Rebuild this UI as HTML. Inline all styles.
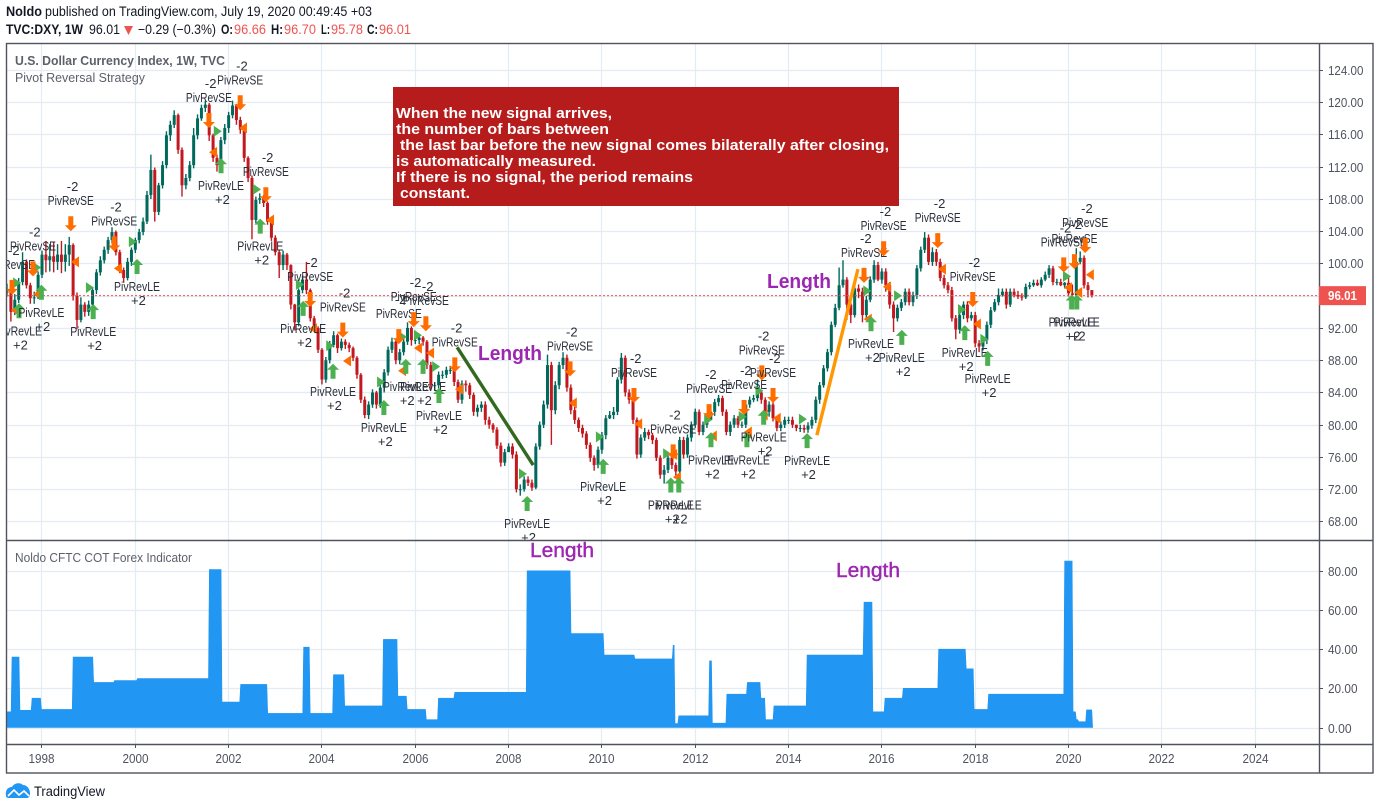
<!DOCTYPE html>
<html lang="en">
<head>
<meta charset="utf-8">
<title>TVC:DXY Pivot Reversal Strategy</title>
<style>
html,body{margin:0;padding:0;background:#fff;width:1380px;height:810px;overflow:hidden}
svg{display:block;font-family:"Liberation Sans",sans-serif}
</style>
</head>
<body>
<svg id="chart" width="1380" height="810" viewBox="0 0 1380 810" xmlns="http://www.w3.org/2000/svg">
  <defs>
    <clipPath id="mainClip"><rect x="7" y="44" width="1312" height="496"/></clipPath>
    <clipPath id="lowClip"><rect x="7" y="541" width="1312" height="203"/></clipPath>
  </defs>
  <rect x="0" y="0" width="1380" height="810" fill="#fff"/>

  <g font-size="13.5" fill="#131722">
    <text x="6" y="16" font-weight="bold" textLength="36" lengthAdjust="spacingAndGlyphs">Noldo</text>
    <text x="45" y="16" textLength="327" lengthAdjust="spacingAndGlyphs">published on TradingView.com, July 19, 2020 00:49:45 +03</text>
    <text x="6" y="34" font-weight="bold" textLength="77" lengthAdjust="spacingAndGlyphs">TVC:DXY, 1W</text>
    <text x="89" y="34" textLength="31" lengthAdjust="spacingAndGlyphs">96.01</text>
    <path d="M124 26 L133 26 L128.5 35 Z" fill="#ef5350"/>
    <text x="138" y="34" textLength="78" lengthAdjust="spacingAndGlyphs">−0.29 (−0.3%)</text>
    <text x="221" y="34" font-weight="bold" textLength="12" lengthAdjust="spacingAndGlyphs">O:</text>
    <text x="234" y="34" fill="#ef5350" textLength="32" lengthAdjust="spacingAndGlyphs">96.66</text>
    <text x="271" y="34" font-weight="bold" textLength="12" lengthAdjust="spacingAndGlyphs">H:</text>
    <text x="284" y="34" fill="#ef5350" textLength="32" lengthAdjust="spacingAndGlyphs">96.70</text>
    <text x="321" y="34" font-weight="bold" textLength="9" lengthAdjust="spacingAndGlyphs">L:</text>
    <text x="331" y="34" fill="#ef5350" textLength="32" lengthAdjust="spacingAndGlyphs">95.78</text>
    <text x="367" y="34" font-weight="bold" textLength="11" lengthAdjust="spacingAndGlyphs">C:</text>
    <text x="379" y="34" fill="#ef5350" textLength="32" lengthAdjust="spacingAndGlyphs">96.01</text>
  </g>

  <g id="gridLayer"></g>
  <g id="mainLayer" clip-path="url(#mainClip)"></g>
  <g id="lowLayer" clip-path="url(#lowClip)"></g>

  <g stroke="#50535e" stroke-width="1.4" fill="none">
    <rect x="6.5" y="43.5" width="1366.5" height="729.5"/>
    <line x1="1319.5" y1="43" x2="1319.5" y2="773"/>
    <line x1="6" y1="540.5" x2="1373" y2="540.5"/>
    <line x1="6" y1="744.5" x2="1373" y2="744.5"/>
  </g>
  <g id="axisLayer"></g>

  <g fill="#5d606b" font-size="13">
    <text x="15" y="65" font-weight="bold" textLength="210" lengthAdjust="spacingAndGlyphs">U.S. Dollar Currency Index, 1W, TVC</text>
    <text x="15" y="82" textLength="130" lengthAdjust="spacingAndGlyphs">Pivot Reversal Strategy</text>
    <text x="15" y="562" textLength="177" lengthAdjust="spacingAndGlyphs">Noldo CFTC COT Forex Indicator</text>
  </g>

  <g>
    <rect x="393" y="87" width="506" height="119" fill="#b71c1c"/>
    <g fill="#fff" font-weight="bold" font-size="15">
      <text x="396" y="118" textLength="216" lengthAdjust="spacingAndGlyphs">When the new signal arrives,</text>
      <text x="396" y="134" textLength="213" lengthAdjust="spacingAndGlyphs">the number of bars between</text>
      <text x="400" y="150" textLength="489" lengthAdjust="spacingAndGlyphs">the last bar before the new signal comes bilaterally after closing,</text>
      <text x="396" y="166" textLength="200" lengthAdjust="spacingAndGlyphs">is automatically measured.</text>
      <text x="396" y="182" textLength="297" lengthAdjust="spacingAndGlyphs">If there is no signal, the period remains</text>
      <text x="400" y="198" textLength="70" lengthAdjust="spacingAndGlyphs">constant.</text>
    </g>
  </g>

  <g fill="#9c27b0" font-size="20">
    <text x="478" y="360" font-weight="bold" textLength="64" lengthAdjust="spacingAndGlyphs">Length</text>
    <text x="767" y="288" font-weight="bold" textLength="64" lengthAdjust="spacingAndGlyphs">Length</text>
    <text x="530" y="557" stroke="#9c27b0" stroke-width="0.4" textLength="64" lengthAdjust="spacingAndGlyphs">Length</text>
    <text x="836" y="577" stroke="#9c27b0" stroke-width="0.4" textLength="64" lengthAdjust="spacingAndGlyphs">Length</text>
  </g>

  <g>
    <path d="M6 796 C5 790 8 787 12 787 C14 783 20 782 23 785 C27 785 30 789 30 793 C30 796 29 798 27 798 L9 798 C7 798 6 797 6 796 Z" fill="#2196f3"/>
    <path d="M8 796 L14 790 L19 795 L24 791 L29 796" fill="none" stroke="#fff" stroke-width="1.6"/>
    <text x="34" y="796" font-size="13.5" fill="#131722" textLength="71" lengthAdjust="spacingAndGlyphs">TradingView</text>
  </g>

<script>
// ---- Price axis data ----
const priceTicks = [124,120,116,112,108,104,100,96,92,88,84,80,76,72,68];
const indicatorTicks = [80,60,40,20,0];
const timeTicks = [1998,2000,2002,2004,2006,2008,2010,2012,2014,2016,2018,2020,2022,2024];
const lastPrice = 96.01;
const firstBarYear = 1997.263;
const barsPerYear = 12;

// ---- Price series ----
const closes = [
96.5,94.0,95.5,97.7,100.2,97.3,95.7,95.8,98.6,101.1,
100.4,100.9,100.2,101.1,100.2,101.1,102.3,96.0,93.0,94.9,
94.0,94.9,96.7,98.9,100.4,101.7,102.9,103.9,101.4,99.2,
98.2,100.2,101.7,102.9,103.9,105.2,108.5,111.6,106.4,109.7,
112.2,115.9,117.2,118.4,114.1,109.7,110.6,112.2,115.9,118.0,
119.3,119.7,115.9,113.1,112.2,115.3,116.8,118.4,119.6,117.8,
116.6,113.1,110.6,105.4,107.9,108.1,107.5,105.2,103.2,101.4,
99.8,101.1,99.8,94.9,92.7,96.7,98.0,96.7,93.2,92.0,
89.3,85.6,88.0,89.9,91.1,89.5,90.3,89.9,89.5,88.3,
86.2,83.1,81.2,82.5,84.0,82.5,84.6,86.5,89.3,90.3,
88.0,89.0,90.3,92.0,90.5,90.5,90.8,90.3,87.4,84.9,
84.9,86.2,86.2,86.8,86.8,85.3,83.1,85.1,84.9,83.7,
81.6,82.1,82.5,80.6,80.0,79.4,77.4,75.3,76.6,77.3,
76.3,72.0,72.0,73.2,72.8,72.2,77.3,80.0,82.5,87.4,
81.8,84.9,87.4,88.3,84.6,81.8,80.6,79.6,78.9,77.5,
75.9,75.0,76.9,78.7,80.8,81.2,81.6,85.6,88.3,84.0,
83.1,80.6,76.3,78.4,79.1,78.7,78.1,75.9,73.8,74.4,
75.9,75.0,74.2,78.1,76.3,78.4,80.0,81.6,79.1,80.0,
80.6,81.6,82.8,83.3,81.6,79.1,80.0,80.8,80.0,80.0,
82.5,83.1,83.3,84.0,83.1,81.6,82.5,80.8,79.6,80.0,
80.6,80.6,80.0,79.6,79.6,79.4,79.9,80.6,83.1,84.9,
87.0,89.0,92.4,94.5,97.3,98.0,94.9,93.6,96.9,96.5,
93.6,95.5,98.0,99.8,98.0,99.0,97.3,94.9,93.2,94.5,
95.2,96.5,95.2,96.1,99.4,101.7,103.2,100.2,101.4,100.2,
98.2,97.3,96.7,93.2,91.8,93.6,94.9,93.2,93.6,90.1,
89.7,90.5,92.4,94.2,95.2,96.1,96.5,94.9,96.5,96.1,
95.9,95.8,97.1,97.3,97.6,97.3,98.0,98.6,99.4,97.7,
97.7,97.3,97.6,96.3,96.1,100.2,100.7,97.3,96.7,96.01
];
const highs = [
97.5,96.8,96.2,98.2,101.4,100.5,97.6,96.5,99,101.6,
102.8,102.4,102.6,102.4,102.8,102.4,103.3,102.5,96.4,95.8,
95.2,95.4,97.1,99.3,100.9,102.1,103.3,104.5,104.1,101.7,
99.5,100.7,102,103.2,104.3,105.7,109,113.5,111.9,110,
112.7,116.4,117.7,119,118.6,114.4,111.1,112.7,116.8,118.5,
119.7,120.2,119.9,116.1,113.5,115.7,117.3,118.8,120.2,119.8,
118.2,116.8,113.3,110.9,108.3,108.7,108.5,107.7,105.5,103.5,
101.7,101.6,101.3,99.9,95,96.9,98.5,100.2,96.9,93.5,
92.2,89.5,88.4,90.4,91.6,91.3,90.7,90.6,90.2,89.7,
88.5,86.4,83.5,82.9,84.4,84.2,85,86.9,89.7,90.8,
90.5,89.4,90.7,92.7,92.2,91,91.3,91,90.5,87.8,
85.3,86.6,86.7,87.2,87.3,87.1,85.6,85.5,85.5,85.2,
84,82.5,82.9,82.9,81,80.2,79.7,77.8,77,77.7,
77.7,76.7,72.6,73.6,73.6,73.2,77.7,80.4,83,88.7,
87.8,85.4,87.8,89,88.7,85,82.2,80.9,80,79.2,
77.8,76.2,77.3,79.1,81.2,81.7,82.2,85.9,88.9,88.6,
84.4,83.4,80.9,78.8,79.6,79.4,79,78.4,76.2,75,
76.3,76.1,75.3,78.5,78.5,78.8,80.4,82,81.9,80.4,
81,82,83.2,83.7,83.6,81.9,80.4,81.2,81.1,80.4,
82.9,83.5,83.7,85.6,84.1,83.4,82.9,82.9,81,80.4,
81,81,81,80,80,80,80.3,81,83.5,85.3,
87.4,89.4,92.8,95,99.5,100.4,98.3,95.2,97.3,97.4,
97,96,98.4,100.4,100.2,99.4,99.4,97.7,95.3,94.9,
95.6,96.9,96.9,96.5,99.8,102.1,103.9,103.6,102,101.8,
100.6,98.6,97.7,97.1,93.6,94,95.3,95.3,94,94,
90.5,90.9,92.8,94.6,95.6,96.9,96.9,96.9,96.9,96.9,
96.6,96.3,97.5,97.7,98,98,98.3,99,99.8,99.7,
98.1,98.1,97.7,98.4,97.4,101.9,101.5,101,97.7,96.7
];
const lows = [
95.9,92.8,93.6,95.1,97.3,96.9,95,95,95.6,98.2,
98.9,99,98.9,99.2,98.8,99,99.7,95.4,91.9,92.7,
93.4,93.5,94.5,96.2,98.5,100,101.2,102.5,101,98.8,
97.6,97.9,99.7,101.3,102.5,103.5,104.9,108,105.2,106,
109.3,111.8,115.2,116.8,113.6,108.3,109.2,110.2,111.8,115.4,
117.7,118.8,115.2,112.6,111.4,111.8,114.8,116.2,118,117.2,
116.1,112.6,110.1,103,105,107.4,107,104.8,102.8,101,
98.2,99.2,99.2,94.3,91.7,92.2,96.3,96.2,92.8,91.6,
88.9,85,85.2,87.6,89.6,88.9,89.2,89.4,89,87.9,
85.7,82.7,80.8,80.7,82.1,82,82.1,84,86.1,88.9,
87.5,87.5,88.6,89.9,89.8,90,90,89.8,86.9,84.3,
84.3,84.5,85.7,85.8,86.3,84.8,82.7,82.6,84.1,83.2,
81.1,81,81.6,80,79.5,79,77,74.8,74.9,76.7,
75.8,71.6,71.2,71.7,72.4,71.8,72,76.9,79.6,82,
77.5,81.3,84.4,86.9,84.1,81.3,80.1,79.1,78.4,77,
75.4,74.3,74.6,76.4,78.2,80.7,80.7,81.2,85.1,83.5,
82.6,80.1,75.8,75.9,78,78.2,77.6,75.5,73.3,72.7,
74,74.5,73.7,73.8,75.8,75.9,77.9,79.6,78.7,78.7,
79.6,80.6,81.1,82.3,81.1,78.7,78.6,79.6,79.6,79.6,
79.6,82.1,82.8,82.9,82.6,81.1,81,80.4,79.2,79.2,
79.6,80.1,79.6,79.2,79.1,79,79,79.5,80.2,82.6,
84.6,86.6,88.6,92.1,94.2,97,93,92.6,93.3,95.7,
92.7,93.2,95.2,97.6,97.8,97.5,96.5,94.4,91.5,92.8,
94.1,94.8,94.8,94.7,95.6,99,101.3,99.8,99.7,99.7,
97.8,96.9,96.3,92.8,90.6,91.3,93.1,92.7,92.9,89.6,
89,89.2,90,92,94,94.8,95.9,94.4,94.6,95.8,
95.6,95.4,95.6,96.8,97.1,97.2,97,97.8,98.2,97.3,
97.3,97.2,96.9,95.9,95.3,95.8,99.9,96.9,95.8,95.78
];

// ---- Strategy signals ----
const shortSignalYears = [1997.37,1997.82,1998.63,1999.56,2001.59,2002.26,2002.81,2003.76,2004.46,2005.66,2005.98,2006.24,2006.86,2009.33,2010.70,2011.54,2012.31,2013.06,2013.44,2013.68,2015.63,2016.05,2017.21,2017.96,2019.91,2020.14,2020.37];
const shortSignalPrices = [96.1,98.4,104.0,101.5,116.8,119.0,107.6,94.6,90.8,90.0,92.1,91.6,86.5,86.0,82.7,75.7,80.7,81.2,85.5,82.7,97.6,100.9,101.9,94.6,98.9,99.3,101.3];
const longSignalYears = [1997.52,1998.00,1999.11,2000.05,2001.85,2002.69,2003.61,2004.25,2005.34,2005.81,2006.18,2006.52,2008.41,2010.04,2011.49,2011.66,2012.35,2013.12,2013.48,2014.41,2015.78,2016.44,2017.79,2018.28,2020.08,2020.19];
const longSignalPrices = [93.2,95.5,93.1,98.7,111.2,103.7,93.5,85.7,81.2,86.3,86.3,82.7,69.3,73.9,71.6,71.6,77.2,77.2,80.0,77.1,91.6,89.9,90.5,87.3,94.3,94.3];
const orangeMarkYears = [1997.43,1997.91,1998.72,1999.64,2001.68,2002.32,2002.90,2003.82,2004.55,2005.73,2006.07,2006.33,2006.95,2009.39,2010.79,2011.54,2011.62,2012.39,2013.14,2013.48,2013.76,2015.71,2016.12,2017.30,2018.05,2020.00,2020.22,2020.47];
const orangeMarkPrices = [94.2,96.2,100.2,99.4,113.8,116.8,105.4,91.9,87.9,86.7,89.5,88.9,84.4,82.7,80.1,76.3,73.5,78.6,79.1,81.2,80.8,93.1,97.1,99.3,92.5,97.0,96.4,98.6];
const greenMarkYears = [1997.48,1997.91,1999.04,1999.96,2001.78,2002.62,2003.54,2004.19,2005.28,2005.75,2006.07,2006.46,2008.32,2009.97,2011.41,2012.29,2013.03,2013.39,2014.32,2015.70,2016.36,2017.73,2018.21,2019.98];
const greenMarkPrices = [97.6,99.5,97.0,102.7,116.4,109.2,97.4,89.8,85.3,90.9,91.1,87.2,73.9,78.5,76.4,80.6,81.0,84.2,80.7,96.6,96.0,94.3,90.6,98.4];

// ---- Trend lines ----
const downTrendYears = [2006.91,2008.54];
const downTrendPrices = [89.6,75.0];
const upTrendYears = [2014.62,2015.50];
const upTrendPrices = [78.7,99.3];

// ---- Indicator step series: each value holds from its year to the next year ----
const lengthYears = [1997.27,1997.37,1997.54,1997.80,1998.00,1998.68,1999.12,1999.57,2000.06,2001.60,2001.87,2002.27,2002.85,2003.62,2003.76,2004.26,2004.50,2005.33,2005.64,2005.84,2006.25,2006.51,2006.86,2008.41,2009.35,2010.06,2010.72,2011.54,2011.58,2011.66,2012.32,2012.38,2012.69,2013.13,2013.42,2013.52,2013.70,2014.41,2015.63,2015.82,2016.08,2016.47,2017.23,2017.82,2017.99,2018.30,2019.93,2020.11,2020.18,2020.23,2020.40];
const lengthValues = [8,36,8.8,15,9.2,36,23,24,25,80.7,13,22,7.2,41,7.2,27,11,45,16,9.2,4,15,18,80,48,37,35,42,2,6,34,2.2,17,23,15,4,11,37,64,8,15,20,40,30,9.2,17,85,8,4,3,9];
const lengthEndYear = 2020.53;

// ---- Axis functions ----
const xOfYear = function (yr) { return 41.4 + (yr - 1998) * 46.66; };
const yOfPrice = function (p) { return 70 + (124 - p) * 8.062; };
const yOfLength = function (v) { return 727.5 - v * 1.958; };

const NS = 'http://www.w3.org/2000/svg';
const gridLayer = document.getElementById('gridLayer');
const mainLayer = document.getElementById('mainLayer');
const lowLayer = document.getElementById('lowLayer');
const axisLayer = document.getElementById('axisLayer');

function make(tag, parent, props) {
  const el = document.createElementNS(NS, tag);
  for (const k in props) { el.setAttribute(k, props[k]); }
  parent.appendChild(el);
  return el;
}

// Grid lines
priceTicks.forEach(function (p) {
  const y = Math.round(yOfPrice(p)) + 0.5;
  const line = make('line', gridLayer, {x1: 7, x2: 1319, y1: y, y2: y, stroke: '#e3ecf2', 'stroke-width': 1.2});
  
  
  const tick = make('line', axisLayer, {x1: 1319, x2: 1323, y1: y, y2: y, stroke: '#50535e', 'stroke-width': 1});
  
  
  const text = p.toFixed(2);
  const label = make('text', axisLayer, {x: 1328, y: y + 4.5, 'font-size': 12.5, fill: '#50535e', textLength: text.length * 5.9, lengthAdjust: 'spacingAndGlyphs'});
  
  
  label.textContent = text;
});
indicatorTicks.forEach(function (v) {
  const y = Math.round(yOfLength(v)) + 0.5;
  const line = make('line', gridLayer, {x1: 7, x2: 1319, y1: y, y2: y, stroke: '#e3ecf2', 'stroke-width': 1.2});
  
  
  const tick = make('line', axisLayer, {x1: 1319, x2: 1323, y1: y, y2: y, stroke: '#50535e', 'stroke-width': 1});
  
  
  const text = v.toFixed(2);
  const label = make('text', axisLayer, {x: 1328, y: y + 4.5, 'font-size': 12.5, fill: '#50535e', textLength: text.length * 5.9, lengthAdjust: 'spacingAndGlyphs'});
  
  
  label.textContent = text;
});
timeTicks.forEach(function (yr) {
  const x = Math.round(xOfYear(yr)) + 0.5;
  const line = make('line', gridLayer, {x1: x, x2: x, y1: 44, y2: 744, stroke: '#e3ecf2', 'stroke-width': 1.2});
  
  
  const tick = make('line', axisLayer, {x1: x, x2: x, y1: 744, y2: 748, stroke: '#50535e', 'stroke-width': 1});
  
  
  const label = make('text', axisLayer, {x: x - 13, y: 763, 'font-size': 13, fill: '#50535e', textLength: 26, lengthAdjust: 'spacingAndGlyphs'});
  
  
  label.textContent = String(yr);
});

// Candles
closes.forEach(function (c, i) {
  const o = i === 0 ? c : closes[i - 1];
  const x = xOfYear(firstBarYear + i / barsPerYear);
  const color = c >= o ? '#00695c' : '#c2181f';
  const wick = make('line', mainLayer, {x1: x, x2: x, y1: yOfPrice(highs[i]), y2: yOfPrice(lows[i]), stroke: color, 'stroke-width': 1.4});
  
  
  const top = yOfPrice(Math.max(o, c));
  const bottom = yOfPrice(Math.min(o, c));
  const body = make('rect', mainLayer, {x: x - 1.5, y: top, width: 3, height: Math.max(bottom - top, 1), fill: color});
  
  
});

// Last price line
const lastY = yOfPrice(lastPrice);
const lastLine = make('line', mainLayer, {x1: 7, x2: 1319, y1: lastY, y2: lastY, stroke: '#ef5350', 'stroke-width': 1, 'stroke-dasharray': '2 2'});


const lastBox = make('rect', axisLayer, {x: 1319, y: lastY - 9.5, width: 47, height: 19, fill: '#ef5350'});


const lastText = make('text', axisLayer, {x: 1328, y: lastY + 4.5, 'font-size': 12.5, 'font-weight': 'bold', fill: '#fff', textLength: 29, lengthAdjust: 'spacingAndGlyphs'});


lastText.textContent = lastPrice.toFixed(2);

// Trend lines
const downLine = make('line', mainLayer, {x1: xOfYear(downTrendYears[0]), y1: yOfPrice(downTrendPrices[0]), x2: xOfYear(downTrendYears[1]), y2: yOfPrice(downTrendPrices[1]), stroke: '#33691e', 'stroke-width': 3.4});


const upLine = make('line', mainLayer, {x1: xOfYear(upTrendYears[0]), y1: yOfPrice(upTrendPrices[0]), x2: xOfYear(upTrendYears[1]), y2: yOfPrice(upTrendPrices[1]), stroke: '#ff9800', 'stroke-width': 3.4});



// Triangle marks
orangeMarkYears.forEach(function (yr, i) {
  const x = xOfYear(yr);
  const y = yOfPrice(orangeMarkPrices[i]);
  const tri = make('path', mainLayer, {d: 'M' + (x - 4) + ' ' + y + ' L' + (x + 4) + ' ' + (y - 5.5) + ' L' + (x + 4) + ' ' + (y + 5.5) + ' Z', fill: '#ff6d00'});
  
  
});
greenMarkYears.forEach(function (yr, i) {
  const x = xOfYear(yr);
  const y = yOfPrice(greenMarkPrices[i]);
  const tri = make('path', mainLayer, {d: 'M' + (x + 4) + ' ' + y + ' L' + (x - 4) + ' ' + (y - 5.5) + ' L' + (x - 4) + ' ' + (y + 5.5) + ' Z', fill: '#4caf50'});
  
  
});

// Short signals: arrow tip at the signal price, labels stacked above
shortSignalYears.forEach(function (yr, i) {
  const x = xOfYear(yr);
  const tip = yOfPrice(shortSignalPrices[i]);
  const arrow = make('path', mainLayer, {d: 'M' + x + ' ' + tip + ' L' + (x - 6) + ' ' + (tip - 6) + ' L' + (x - 2.5) + ' ' + (tip - 6) + ' L' + (x - 2.5) + ' ' + (tip - 15) + ' L' + (x + 2.5) + ' ' + (tip - 15) + ' L' + (x + 2.5) + ' ' + (tip - 6) + ' L' + (x + 6) + ' ' + (tip - 6) + ' Z', fill: '#ff6d00'});
  
  
  const label = make('text', mainLayer, {x: x - 23, y: tip - 26, 'font-size': 13, fill: '#2a2e39', textLength: 46, lengthAdjust: 'spacingAndGlyphs'});
  
  
  label.textContent = 'PivRevSE';
  const qty = make('text', mainLayer, {x: x - 4, y: tip - 40, 'font-size': 13, fill: '#2a2e39'});
  
  
  qty.textContent = '-2';
});

// Long signals: arrow base at the signal price, labels stacked below
longSignalYears.forEach(function (yr, i) {
  const x = xOfYear(yr);
  const base = yOfPrice(longSignalPrices[i]);
  const arrow = make('path', mainLayer, {d: 'M' + x + ' ' + (base - 15) + ' L' + (x - 6) + ' ' + (base - 9) + ' L' + (x - 2.5) + ' ' + (base - 9) + ' L' + (x - 2.5) + ' ' + base + ' L' + (x + 2.5) + ' ' + base + ' L' + (x + 2.5) + ' ' + (base - 9) + ' L' + (x + 6) + ' ' + (base - 9) + ' Z', fill: '#4caf50'});
  
  
  const label = make('text', mainLayer, {x: x - 23, y: base + 17, 'font-size': 13, fill: '#2a2e39', textLength: 46, lengthAdjust: 'spacingAndGlyphs'});
  
  
  label.textContent = 'PivRevLE';
  const qty = make('text', mainLayer, {x: x - 6, y: base + 31, 'font-size': 13, fill: '#2a2e39'});
  
  
  qty.textContent = '+2';
});

// Indicator stepped area
let areaPath = 'M' + xOfYear(lengthYears[0]) + ' ' + yOfLength(0);
lengthValues.forEach(function (v, i) {
  const next = i + 1 < lengthYears.length ? lengthYears[i + 1] : lengthEndYear;
  areaPath += ' L' + xOfYear(lengthYears[i]) + ' ' + yOfLength(v);
  areaPath += ' L' + (xOfYear(next) - 0.9) + ' ' + yOfLength(v);
});
areaPath += ' L' + xOfYear(lengthEndYear) + ' ' + yOfLength(0) + ' Z';
const area = make('path', lowLayer, {d: areaPath, fill: '#2196f3', stroke: '#2196f3', 'stroke-width': 0.6});


</script>
</svg>
</body>
</html>
